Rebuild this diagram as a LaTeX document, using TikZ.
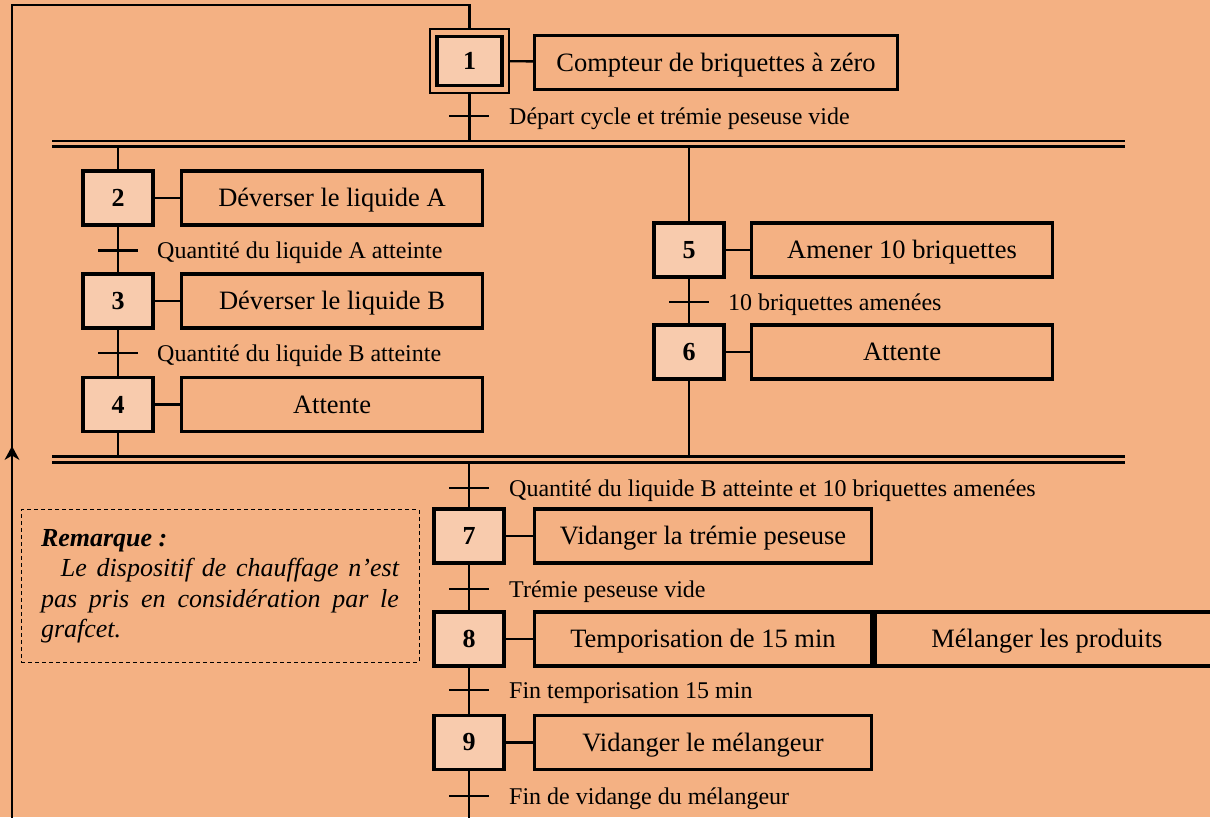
\documentclass[tikz,border=0pt]{standalone}
\usepackage{fontspec}
\setmainfont{Liberation Serif}
\usetikzlibrary{arrows.meta}
\definecolor{fond}{RGB}{244,177,131}
\definecolor{etapefond}{RGB}{248,203,173}

\begin{document}
\begin{tikzpicture}[x=1pt, y=-1pt,
  etape/.style={shape=rectangle, draw, line width=3.6pt, fill=etapefond, minimum width=70pt, minimum height=54pt, inner sep=0pt, font=\fontsize{26}{30}\selectfont\bfseries},
  action/.style={shape=rectangle, draw, line width=3.4pt, minimum height=54pt, inner sep=0pt, text height=19.5pt, text depth=2.5pt, font=\fontsize{26.5}{30}\selectfont},
  recept/.style={anchor=base west, inner sep=0pt, font=\fontsize{24}{28}\selectfont},
  lien/.style={line width=2.3pt},
  barre/.style={double=fond, double distance=3.2pt, line width=2.5pt},
  fleche/.tip={Stealth[length=14pt, width=15pt, inset=4.5pt, line width=0pt]},
]

%fond
\fill[fond] (0,0) rectangle (1210,817);
\useasboundingbox (0,0) rectangle (1210,817);

%etape initiale
\node (s1) at (469.5,61) [etape, minimum width=65pt, minimum height=49pt] {1};
\node (s1x) at (s1) [draw, line width=2.4pt, minimum width=79pt, minimum height=64pt] {};
\node (a1) at (716,62.5) [action, minimum width=363pt] {Compteur de briquettes à zéro};
\draw[lien] (s1x) -- (a1);

%branche gauche
\node (s2) at (118,198) [etape] {2};
\node (a2) at (332,198) [action, minimum width=301pt] {Déverser le liquide A};
\node (s3) at (118,301) [etape] {3};
\node (a3) at (332,301) [action, minimum width=301pt] {Déverser le liquide B};
\node (s4) at (118,404.5) [etape] {4};
\node (a4) at (332,404.5) [action, minimum width=301pt] {Attente};
\draw[lien] (s2) -- (a2);
\draw[lien] (s3) -- (a3);
\draw[lien] (s4) -- (a4);

%branche droite
\node (s5) at (689,250) [etape] {5};
\node (a5) at (902,250) [action, minimum width=301pt] {Amener 10 briquettes};
\node (s6) at (689,352) [etape] {6};
\node (a6) at (902,352) [action, minimum width=301pt] {Attente};
\draw[lien] (s5) -- (a5);
\draw[lien] (s6) -- (a6);

%suite
\node (s7) at (469,536) [etape] {7};
\node (a7) at (703,536) [action, minimum width=337pt] {Vidanger la trémie peseuse};
\node (s8) at (469,639) [etape] {8};
\node (a8) at (703,639) [action, minimum width=337pt] {Temporisation de 15 min};
\node (a8b) at (a8.east) [action, anchor=west, minimum width=344pt] {Mélanger les produits};
\node (s9) at (469,742.5) [etape] {9};
\node (a9) at (703,742.5) [action, minimum width=337pt] {Vidanger le mélangeur};
\draw[lien] (s7) -- (a7);
\draw[lien] (s8) -- (a8);
\draw[lien] (s9) -- (a9);

%barres de convergence/divergence
\coordinate (b1g) at (52,143.75);
\coordinate (b1d) at (1125,143.75);
\coordinate (b2g) at (52,459.5);
\coordinate (b2d) at (1125,459.5);

%liaisons
\draw[lien] (s1x) -- (s1x |- b1g);
\draw[lien] (s2 |- b1g) -- (s2);
\draw[lien] (s2) -- (s3);
\draw[lien] (s3) -- (s4);
\draw[lien] (s4) -- (s4 |- b2g);
\draw[lien] (s5 |- b1g) -- (s5);
\draw[lien] (s5) -- (s6);
\draw[lien] (s6) -- (s6 |- b2g);
\draw[lien] (s7 |- b2g) -- (s7);
\draw[lien] (s7) -- (s8);
\draw[lien] (s8) -- (s9);

\draw[barre] (b1g) -- (b1d);
\draw[barre] (b2g) -- (b2d);

%retour
\coordinate (retb) at (469,820);
\coordinate (retg) at (12,820);
\coordinate (reth) at (12,5);
\coordinate (fl) at (12,446);
\draw[lien] (s9) -- (retb);
\draw[lien] (retg) -- (reth) -| (s1x);
\draw[lien, -fleche] (retg) -- (fl);

%transitions
\coordinate (t1) at (469,116);
\coordinate (t2) at (118,250.5);
\coordinate (t3) at (118,353);
\coordinate (t5) at (689,302);
\coordinate (t7) at (469,488);
\coordinate (t8) at (469,589);
\coordinate (t9) at (469,690);
\coordinate (t10) at (469,796);
\foreach \t in {t1,t2,t3,t5,t7,t8,t9,t10}
  \draw[lien] ([xshift=-20pt]\t) -- ([xshift=20pt]\t);

\node (r1) at ([xshift=40pt, yshift=-8pt]t1) [recept] {Départ cycle et trémie peseuse vide};
\node (r2) at ([xshift=39pt, yshift=-8pt]t2) [recept] {Quantité du liquide A atteinte};
\node (r3) at ([xshift=39pt, yshift=-8pt]t3) [recept] {Quantité du liquide B atteinte};
\node (r5) at ([xshift=39pt, yshift=-8pt]t5) [recept] {10 briquettes amenées};
\node (r7) at ([xshift=40pt, yshift=-8pt]t7) [recept] {Quantité du liquide B atteinte et 10 briquettes amenées};
\node (r8) at ([xshift=40pt, yshift=-8pt]t8) [recept] {Trémie peseuse vide};
\node (r9) at ([xshift=40pt, yshift=-8pt]t9) [recept] {Fin temporisation 15 min};
\node (r10) at ([xshift=40pt, yshift=-8pt]t10) [recept] {Fin de vidange du mélangeur};

%remarque
\node (rq) at (220,586) [draw, dash pattern=on 4pt off 3pt, line width=1pt, text width=358pt, inner xsep=20pt, inner ysep=19pt, minimum height=150pt, align=justify, font=\fontsize{26}{30.5}\selectfont\itshape]
  {\textbf{Remarque :}\par\hspace*{20pt}Le dispositif de chauffage n’est\linebreak pas pris en considération par le grafcet.};

\end{tikzpicture}
\end{document}
